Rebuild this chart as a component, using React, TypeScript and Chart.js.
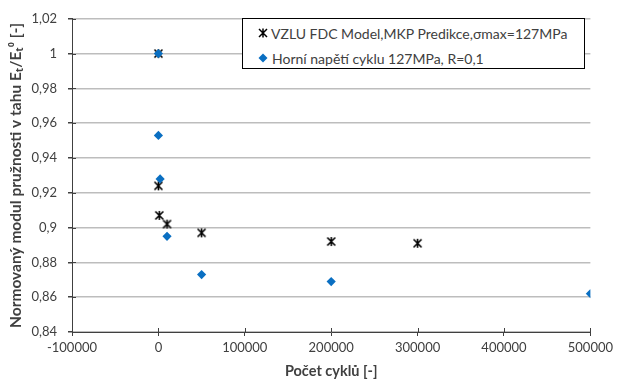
import React, { useEffect, useRef } from 'react';
import { Chart, registerables } from 'chart.js';
Chart.register(...registerables);

const vzluCycles = [0, 0, 1000, 10000, 50000, 200000, 300000];
const vzluValues = [1.0, 0.924, 0.907, 0.902, 0.897, 0.892, 0.891];
const testCycles = [0, 0, 2000, 10000, 50000, 200000, 500000];
const testValues = [1.0, 0.953, 0.928, 0.895, 0.873, 0.869, 0.862];
const xTicks = [-100000, 0, 100000, 200000, 300000, 400000, 500000];
const yTicks = [0.84, 0.86, 0.88, 0.9, 0.92, 0.94, 0.96, 0.98, 1.0, 1.02];
const seriesLabels = ['VZLU FDC Model,MKP Predikce,\u03c3max=127MPa', 'Horn\u00ed nap\u011bt\u00ed cyklu 127MPa, R=0,1'];
const xTitle = 'Po\u010det cykl\u016f [-]';
const yTitle = 'Normovan\u00fd modul pru\u017enosti v tahu E\u209c/E\u209c\u2070 [-]';

const FONT = 'Lato, "Open Sans", "DejaVu Sans", sans-serif';
const BLUE = '#0a6fc2';
const AXIS = '#404040';

function makeStar(): HTMLCanvasElement {
  const c = document.createElement('canvas');
  c.width = 11;
  c.height = 11;
  const g = c.getContext('2d')!;
  g.strokeStyle = '#000';
  g.lineWidth = 1.6;
  g.beginPath();
  g.moveTo(1.5, 1.5); g.lineTo(9.5, 9.5);
  g.moveTo(9.5, 1.5); g.lineTo(1.5, 9.5);
  g.moveTo(5.5, 1); g.lineTo(5.5, 10);
  g.stroke();
  return c;
}

const innerTicks = {
  id: 'innerTicks',
  afterDatasetsDraw(chart: any) {
    const ctx = chart.ctx;
    const xs = chart.scales.x;
    const ys = chart.scales.y;
    ctx.save();
    ctx.strokeStyle = AXIS;
    ctx.lineWidth = 1;
    ctx.beginPath();
    xs.ticks.forEach((t: any) => {
      const px = Math.round(xs.getPixelForValue(t.value)) + 0.5;
      ctx.moveTo(px, xs.top - 4);
      ctx.lineTo(px, xs.top);
    });
    ys.ticks.forEach((t: any) => {
      const py = Math.round(ys.getPixelForValue(t.value)) + 0.5;
      ctx.moveTo(ys.right, py);
      ctx.lineTo(ys.right + 4, py);
    });
    ctx.stroke();
    ctx.restore();
  },
};

export default function App() {
  const ref = useRef<HTMLCanvasElement>(null);
  useEffect(() => {
    if (!ref.current) return;
    const star = makeStar();
    const chart = new Chart(ref.current, {
      type: 'scatter',
      data: {
        datasets: [
          {
            label: seriesLabels[0],
            data: vzluCycles.map((x, i) => ({ x, y: vzluValues[i] })),
            pointStyle: star as any,
            pointRadius: 5,
            borderColor: '#000',
            backgroundColor: '#000',
            order: 1,
          },
          {
            label: seriesLabels[1],
            data: testCycles.map((x, i) => ({ x, y: testValues[i] })),
            pointStyle: 'rectRot',
            pointRadius: 4.6,
            borderWidth: 0,
            borderColor: BLUE,
            backgroundColor: BLUE,
            order: 0,
          },
        ],
      },
      options: {
        animation: false,
        responsive: false,
        layout: { padding: { left: 0, top: 15, right: 25, bottom: 0 } },
        plugins: { legend: { display: false }, tooltip: { enabled: false } },
        scales: {
          x: {
            type: 'linear',
            min: -100000,
            max: 500000,
            afterBuildTicks: (s: any) => { s.ticks = xTicks.map((v) => ({ value: v })); },
            afterFit: (s: any) => { s.height = 48; },
            ticks: {
              font: { family: FONT, size: 13 },
              color: '#404040',
              padding: 4,
              maxRotation: 0,
              autoSkip: false,
              callback: (v: any) => String(v),
            },
            grid: { color: 'transparent', tickColor: AXIS, tickLength: 4, drawTicks: true },
            border: { display: true, color: AXIS, width: 1 },
            title: {
              display: true,
              text: xTitle,
              font: { family: FONT, size: 14.5, weight: 'bold' },
              color: '#404040',
              padding: { top: 1, bottom: 0 },
            },
          },
          y: {
            type: 'linear',
            min: 0.84,
            max: 1.02,
            afterBuildTicks: (s: any) => { s.ticks = yTicks.map((v) => ({ value: v })); },
            afterFit: (s: any) => { s.width = 72; },
            ticks: {
              font: { family: FONT, size: 13 },
              color: '#404040',
              padding: 11,
              autoSkip: false,
              callback: (v: any) => String(Number(Number(v).toFixed(2))).replace('.', ','),
            },
            grid: { color: '#bdbdbd', lineWidth: 1.5, tickColor: AXIS, tickLength: 4, drawTicks: true },
            border: { display: true, color: AXIS, width: 1 },
            title: {
              display: true,
              text: yTitle,
              font: { family: FONT, size: 15.5, weight: 'bold' },
              color: '#404040',
              padding: { top: 7, bottom: 0 },
            },
          },
        },
      },
      plugins: [innerTicks],
    });
    return () => chart.destroy();
  }, []);

  const legendRow: React.CSSProperties = {
    position: 'absolute',
    left: 15,
    height: 20,
    display: 'flex',
    alignItems: 'center',
    whiteSpace: 'nowrap',
  };

  return (
    <div style={{ position: 'absolute', left: 0, top: 0, width: 617, height: 380, background: '#fff' }}>
      <canvas ref={ref} width={617} height={380} style={{ display: 'block' }} />
      <div
        style={{
          position: 'absolute',
          left: 242,
          top: 18,
          width: 343,
          height: 51,
          boxSizing: 'border-box',
          border: '1px solid #000',
          background: '#fff',
          fontFamily: FONT,
          fontSize: 14,
          color: '#404040',
        }}
      >
        <div style={{ ...legendRow, top: 4 }}>
          <svg width="10" height="10" style={{ marginRight: 3 }}>
            <path d="M1,1 L9,9 M9,1 L1,9 M5,0.5 L5,9.5" stroke="#000" strokeWidth="1.5" fill="none" />
          </svg>
          <span>{seriesLabels[0]}</span>
        </div>
        <div style={{ ...legendRow, top: 29 }}>
          <svg width="10" height="10" style={{ marginRight: 4 }}>
            <polygon points="5,0.5 9.5,5 5,9.5 0.5,5" fill={BLUE} />
          </svg>
          <span>{seriesLabels[1]}</span>
        </div>
      </div>
    </div>
  );
}
